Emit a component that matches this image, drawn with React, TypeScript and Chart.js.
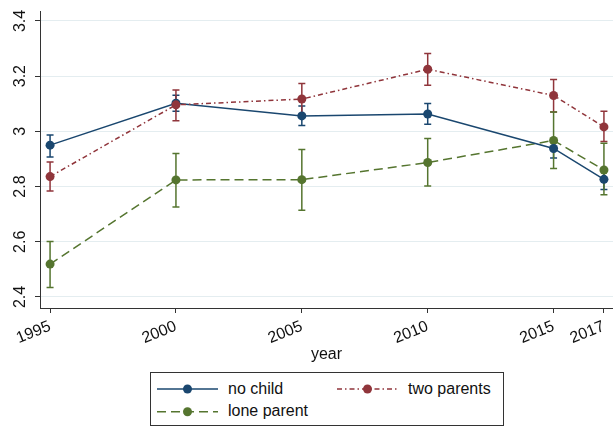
import { useEffect, useRef } from 'react';
import { Chart, registerables } from 'chart.js';

Chart.register(...registerables);

const years = [1995, 2000, 2005, 2010, 2015, 2017];
const xTickValues = [1995, 2000, 2005, 2010, 2015, 2017];
const yTickValues = [2.4, 2.6, 2.8, 3.0, 3.2, 3.4];
const yTickLabels = ['2.4', '2.6', '2.8', '3', '3.2', '3.4'];
const seriesNames = ['no child', 'two parents', 'lone parent'];

const noChild = [2.95, 3.102, 3.056, 3.063, 2.938, 2.826];
const noChildLow = [2.907, 3.073, 3.021, 3.026, 2.903, 2.789];
const noChildHigh = [2.987, 3.131, 3.092, 3.101, 2.973, 2.863];

const twoParents = [2.836, 3.096, 3.117, 3.225, 3.13, 3.016];
const twoParentsLow = [2.784, 3.038, 3.062, 3.167, 3.07, 2.963];
const twoParentsHigh = [2.889, 3.15, 3.173, 3.282, 3.188, 3.073];

const loneParent = [2.519, 2.824, 2.825, 2.887, 2.967, 2.86];
const loneParentLow = [2.434, 2.726, 2.714, 2.802, 2.865, 2.77];
const loneParentHigh = [2.601, 2.92, 2.934, 2.974, 3.07, 2.957];

const NAVY = '#1a476f';
const MAROON = '#90353b';
const GREEN = '#55752f';
const DASH_TWO = [5, 3, 1.5, 3];
const DASH_LONE = [9, 5];
const FONT = { family: 'Liberation Sans', size: 16 };
const TEXT = '#111111';
const AXIS = '#333333';

const errorBarPlugin = {
  id: 'errorBars',
  beforeDatasetsDraw(chart: any) {
    const { ctx } = chart;
    const xs = chart.scales.x;
    const ys = chart.scales.y;
    chart.data.datasets.forEach((ds: any) => {
      if (!ds.errLow) return;
      ctx.save();
      ctx.strokeStyle = ds.borderColor;
      ctx.lineWidth = 1.5;
      ctx.setLineDash([]);
      ds.data.forEach((p: any, j: number) => {
        const px = xs.getPixelForValue(p.x);
        const yl = ys.getPixelForValue(ds.errLow[j]);
        const yh = ys.getPixelForValue(ds.errHigh[j]);
        ctx.beginPath();
        ctx.moveTo(px, yl);
        ctx.lineTo(px, yh);
        ctx.moveTo(px - 3.5, yl);
        ctx.lineTo(px + 3.5, yl);
        ctx.moveTo(px - 3.5, yh);
        ctx.lineTo(px + 3.5, yh);
        ctx.stroke();
      });
      ctx.restore();
    });
  },
};

function toPoints(vals: number[]) {
  return years.map((yr, i) => ({ x: yr, y: vals[i] }));
}

function Legend() {
  const rowY = [17, 39.7];
  const items = [
    { name: seriesNames[0], color: NAVY, dash: '', lx: 7, tx: 78, row: 0 },
    { name: seriesNames[1], color: MAROON, dash: DASH_TWO.join(' '), lx: 187, tx: 258, row: 0 },
    { name: seriesNames[2], color: GREEN, dash: DASH_LONE.join(' '), lx: 7, tx: 78, row: 1 },
  ];
  return (
    <svg
      width={354}
      height={55}
      style={{ position: 'absolute', left: 150, top: 372 }}
    >
      <rect x={0.5} y={0.5} width={353} height={53} fill="white" stroke={AXIS} strokeWidth={1} />
      {items.map((it) => (
        <g key={it.name}>
          <line
            x1={it.lx}
            x2={it.lx + 61}
            y1={rowY[it.row]}
            y2={rowY[it.row]}
            stroke={it.color}
            strokeWidth={1.5}
            strokeDasharray={it.dash || undefined}
          />
          <circle cx={it.lx + 30.5} cy={rowY[it.row]} r={4.5} fill={it.color} />
          <text
            x={it.tx}
            y={rowY[it.row] + 4.6}
            fontFamily="Liberation Sans"
            fontSize={16}
            fill={TEXT}
          >
            {it.name}
          </text>
        </g>
      ))}
    </svg>
  );
}

export default function App() {
  const ref = useRef<HTMLCanvasElement>(null);

  useEffect(() => {
    if (!ref.current) return;
    Chart.defaults.font.family = 'Liberation Sans';
    const mk = (label: string, vals: number[], lo: number[], hi: number[], color: string, dash: number[], order: number) => ({
      label,
      data: toPoints(vals),
      errLow: lo,
      errHigh: hi,
      borderColor: color,
      backgroundColor: color,
      pointBackgroundColor: color,
      pointBorderColor: color,
      pointRadius: 4.5,
      pointBorderWidth: 0,
      borderWidth: 1.5,
      borderDash: dash,
      tension: 0,
      fill: false,
      order,
    });
    const chart = new Chart(ref.current, {
      type: 'line',
      data: {
        datasets: [
          mk(seriesNames[0], noChild, noChildLow, noChildHigh, NAVY, [], 2),
          mk(seriesNames[1], twoParents, twoParentsLow, twoParentsHigh, MAROON, DASH_TWO, 1),
          mk(seriesNames[2], loneParent, loneParentLow, loneParentHigh, GREEN, DASH_LONE, 3),
        ] as any,
      },
      options: {
        responsive: false,
        animation: false,
        layout: { autoPadding: false, padding: { top: 11, right: 0, bottom: 62, left: 0 } },
        plugins: { legend: { display: false }, tooltip: { enabled: false } },
        scales: {
          x: {
            type: 'linear',
            min: 1994.6,
            max: 2017.36,
            afterBuildTicks: (s: any) => {
              s.ticks = xTickValues.map((v) => ({ value: v }));
            },
            afterFit: (s: any) => {
              s.height = 57;
              s.paddingLeft = 0;
              s.paddingRight = 0;
            },
            grid: { drawOnChartArea: false, tickLength: 5, tickColor: AXIS, tickWidth: 1 },
            border: { color: AXIS, width: 1 },
            ticks: {
              autoSkip: false,
              minRotation: 22,
              maxRotation: 22,
              padding: 4,
              font: FONT,
              color: TEXT,
              callback: (v: any) => String(v),
            },
            title: { display: true, text: 'year', font: FONT, color: TEXT, padding: { top: 0, bottom: 1 } },
          },
          y: {
            type: 'linear',
            min: 2.36,
            max: 3.436,
            afterBuildTicks: (s: any) => {
              s.ticks = yTickValues.map((v) => ({ value: v }));
            },
            afterFit: (s: any) => {
              s.width = 40;
              s.paddingTop = 0;
              s.paddingBottom = 0;
            },
            grid: { color: 'rgb(228,237,240)', lineWidth: 1, tickLength: 5, tickColor: AXIS, tickWidth: 1 },
            border: { color: AXIS, width: 1 },
            ticks: {
              minRotation: 90,
              maxRotation: 90,
              crossAlign: 'center',
              padding: 3,
              font: FONT,
              color: TEXT,
              callback: (_v: any, i: number) => yTickLabels[i],
            },
          },
        },
      } as any,
      plugins: [errorBarPlugin],
    });
    return () => chart.destroy();
  }, []);

  return (
    <div style={{ position: 'absolute', left: 0, top: 0, width: 613, height: 427, background: 'white' }}>
      <canvas ref={ref} width={613} height={427} style={{ display: 'block' }} />
      <Legend />
    </div>
  );
}
